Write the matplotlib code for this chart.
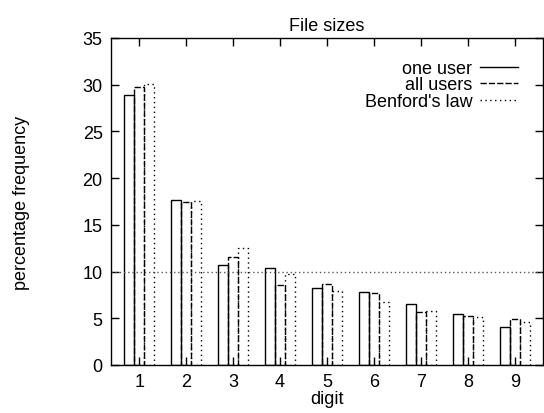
import matplotlib
matplotlib.use("Agg")
import matplotlib.pyplot as plt
from matplotlib.lines import Line2D
import numpy as np

plt.rcParams['font.family'] = ['Liberation Sans', 'DejaVu Sans']

digits = [1, 2, 3, 4, 5, 6, 7, 8, 9]
one_user = [28.9, 17.7, 10.7, 10.4, 8.2, 7.8, 6.5, 5.5, 4.1]
all_users = [29.8, 17.4, 11.6, 8.6, 8.7, 7.7, 5.7, 5.2, 4.9]
benford = [30.1, 17.6, 12.5, 9.7, 7.9, 6.7, 5.8, 5.1, 4.6]
series_names = ["one user", "all users", "Benford's law"]
reference_level = 10

fs = 13
fig = plt.figure(figsize=(5.44, 4.14), dpi=100)
ax = fig.add_axes([0.204, 0.116, 0.794, 0.790])

x = np.array(digits, dtype=float)
w = 0.21
styles = ['-', (0, (4.5, 1.5)), (0, (1, 2.5))]
offsets = [-0.21, 0.0, 0.21]
for vals, ls, off in zip([one_user, all_users, benford], styles, offsets):
    ax.bar(x + off, vals, width=w, fill=False, edgecolor='black',
           linewidth=1.0, linestyle=ls)

ax.axhline(reference_level, color='0.35', linestyle=(0, (1, 2)), linewidth=1.0)

ax.set_xlim(0.4, 9.6)
ax.set_ylim(0, 35)
ax.set_xticks(digits)
ax.set_yticks(range(0, 36, 5))
ax.tick_params(direction='in', length=6, width=1.0, top=True, right=True,
               labelsize=fs, pad=6)
for s in ax.spines.values():
    s.set_linewidth(1.0)

ax.set_title("File sizes", fontsize=fs, pad=6)
ax.set_xlabel("digit", fontsize=fs, labelpad=0)
ax.set_ylabel("percentage frequency", fontsize=fs, labelpad=38)

handles = [Line2D([], [], color='black', linestyle=ls, linewidth=1.0) for ls in styles]
ax.legend(handles, series_names, loc='upper right', frameon=False, markerfirst=False,
          fontsize=fs, handlelength=2.1, handletextpad=0.45, labelspacing=-0.02,
          bbox_to_anchor=(0.96, 0.955), borderaxespad=0)

fig.savefig("out.png", dpi=100)
